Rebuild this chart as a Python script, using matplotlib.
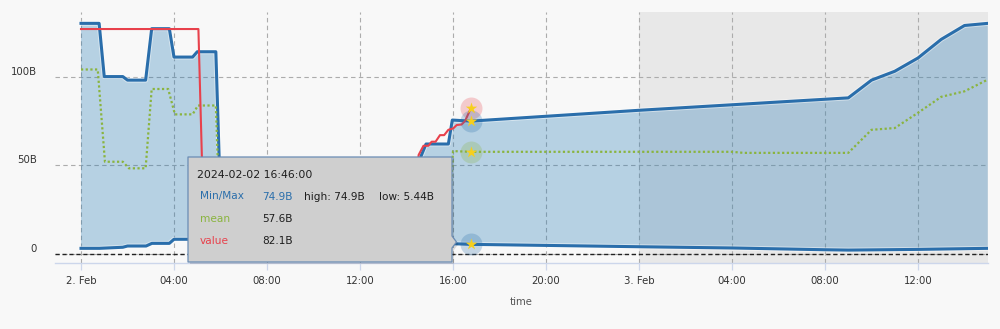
import matplotlib
matplotlib.use("Agg")
import matplotlib.pyplot as plt
import matplotlib.dates as mdates
import matplotlib.patheffects as pe
from matplotlib.patches import Polygon
import numpy as np
import pandas as pd

# ---------------- data (hours after 2024-02-02 00:00, values in B) ----------------
base_time = "2024-02-02 00:00"

max_hours = [0, 0.78, 1.0, 1.8, 2.0, 2.78, 3.04, 3.8, 4.0, 4.8, 5.0, 5.8, 6.05, 14.4,
             14.62, 14.84, 15.8, 15.97, 16.7667, 24, 33, 34, 35, 36, 37, 38, 39]
max_values = [130, 130, 100, 100, 98, 98, 127, 127, 111, 111, 114, 114, 9, 10,
              55, 62, 62, 75.5, 74.9, 81, 88, 98, 103, 110.5, 121, 128.8, 130]

min_hours = [0, 0.8, 1.8, 2.0, 2.8, 3.05, 3.8, 4.0, 5.8, 6.05, 15.8, 16.0, 16.7667,
             24, 28, 32, 33, 36, 39]
min_values = [3.2, 3.2, 3.8, 4.5, 4.5, 6.0, 6.0, 8.3, 8.3, 7, 6, 5.8, 5.44,
              4.1, 3.4, 2.4, 2.2, 2.6, 3.2]

mean_hours = [0, 0.72, 1.03, 1.8, 2.06, 2.78, 3.04, 3.75, 4.04, 4.8, 5.03, 5.8, 6.0,
              15.8, 16.0, 16.7667, 28, 28.5, 33, 34, 35, 36, 37, 38, 39]
mean_values = [104, 104, 52, 52, 48.3, 48.3, 93, 93, 78.7, 78.7, 83.7, 83.7, 8,
               8, 58, 57.6, 57.6, 57, 57, 70, 71, 79.6, 88.6, 91.7, 98.3]

value_hours = [0, 5.05, 5.3, 14.3, 14.52, 14.73, 14.94, 15.08, 15.25, 15.44, 15.62,
               15.8, 16.01, 16.16, 16.37, 16.52, 16.7667]
value_values = [126.8, 126.8, 6, 6, 55.8, 61, 61, 63.3, 63.3, 67, 67,
                70, 70.8, 72.7, 73, 75, 82.1]

hover_label = "2024-02-02 16:46:00"
hover_hour = 16.7667
hover_max = 74.9
hover_min = 5.44
hover_mean = 57.6
hover_value = 82.1

tick_hours = [0, 4, 8, 12, 16, 20, 24, 28, 32, 36]
tick_labels = ["2. Feb", "04:00", "08:00", "12:00", "16:00", "20:00",
               "3. Feb", "04:00", "08:00", "12:00"]
ytick_values = [0, 50, 100]
ytick_labels = ["0", "50B", "100B"]
band_hours = [24, 40]

# ---------------- helpers ----------------
base = pd.Timestamp(base_time)


def X(hours):
    ts = base + pd.to_timedelta(np.asarray(hours, dtype=float), unit="h")
    return mdates.date2num(ts.to_pydatetime())


W, H = 1000, 329


def fp(x, y):  # pixel (top-left origin) -> figure fraction
    return x / W, 1 - y / H


BLUE = "#2a6eab"
FILL = "#1f77b4"
GREEN = "#8ab43f"
RED = "#e8414c"
BG = "#f8f8f8"

fig = plt.figure(figsize=(10, 3.29), dpi=100, facecolor=BG)
ax = fig.add_axes([55 / W, (H - 263) / H, 933 / W, 251 / H])
ax.set_facecolor(BG)

# plot band
ax.axvspan(X(band_hours[0]), X(band_hours[1]), color="#e8e8e8", zorder=0.2, lw=0)

# grid
ax.set_axisbelow(True)
ax.grid(True, color="#acacac", linestyle=(0, (4, 3)), lw=0.8)

# zero line
ax.axhline(0, color="#222222", ls=(0, (3, 2)), lw=1.0, zorder=1.5)

# min/max area
xs = np.concatenate([X(max_hours), X(min_hours)[::-1]])
ys = np.concatenate([np.asarray(max_values), np.asarray(min_values)[::-1]])
ax.fill(xs, ys, color=FILL, alpha=0.3, lw=0, zorder=1)

glow = [pe.Stroke(linewidth=3.6, foreground="white", alpha=0.45), pe.Normal()]
ax.plot(X(max_hours), max_values, color=BLUE, lw=2.2, zorder=3,
        solid_joinstyle="round", path_effects=glow)
ax.plot(X(min_hours), min_values, color=BLUE, lw=2.2, zorder=3,
        solid_joinstyle="round", path_effects=glow)
ax.plot(X(mean_hours), mean_values, color=GREEN, lw=1.6, ls=(0, (1, 1.1)), zorder=3)
ax.plot(X(value_hours), value_values, color=RED, lw=1.5, zorder=4)

# hover halos & markers
hx = X([hover_hour])[0]
for v, c in [(hover_value, RED), (hover_max, BLUE), (hover_mean, GREEN), (hover_min, BLUE)]:
    ax.scatter([hx], [v], s=250, color=c, alpha=0.25, lw=0, zorder=5)
    ax.scatter([hx], [v], s=75, marker="*", color="#f6cf1d", lw=0, zorder=6)

# axes styling
ax.set_xlim(X(-1.118), X(39.01))
ax.set_ylim(-5.07, 136.4)
ax.set_xticks(X(tick_hours))
ax.set_xticklabels(tick_labels)
ax.set_yticks(ytick_values)
ax.set_yticklabels(ytick_labels)
ax.tick_params(axis="x", length=5, width=0.9, color="#ccd6eb", labelsize=7.3,
               labelcolor="#333333", pad=4)
ax.tick_params(axis="y", length=0, labelsize=7.3, labelcolor="#333333", pad=13)
for lab in ax.get_yticklabels():
    lab.set_verticalalignment("bottom")
for s in ["top", "right", "left"]:
    ax.spines[s].set_visible(False)
ax.spines["bottom"].set_color("#ccd6eb")
ax.spines["bottom"].set_linewidth(1.0)
ax.set_xlabel("time", fontsize=7.3, color="#555555")
ax.xaxis.set_label_coords(0.5, (263 - 297) / 251)

# ---------------- tooltip ----------------
box_px = [(188, 157), (452, 157), (452, 236), (456.5, 242), (452, 248), (452, 262), (188, 262)]
shadow = Polygon([fp(x + 2, y + 2) for x, y in box_px], closed=True, transform=fig.transFigure,
                 facecolor="#000000", alpha=0.12, lw=0, zorder=9)
fig.patches.append(shadow)
box = Polygon([fp(x, y) for x, y in box_px], closed=True, transform=fig.transFigure,
              facecolor="#cfcfcf", edgecolor="#6a8cb4", lw=0.9, zorder=10,
              joinstyle="round")
fig.patches.append(box)

tfs = 7.6
TXT = "#1e1e1e"
fig.text(*fp(197, 175), hover_label, fontsize=7.8, color=TXT, va="center", ha="left", zorder=11)
fig.text(*fp(200, 196.5), "Min/Max", fontsize=tfs, color=BLUE, va="center", zorder=11)
fig.text(*fp(262, 196.5), f"{hover_max}B", fontsize=tfs, color=BLUE, va="center", zorder=11)
fig.text(*fp(304, 196.5), f"high: {hover_max}B", fontsize=tfs, color=TXT, va="center", zorder=11)
fig.text(*fp(379, 196.5), f"low: {hover_min}B", fontsize=tfs, color=TXT, va="center", zorder=11)
fig.text(*fp(200, 218.5), "mean", fontsize=tfs, color=GREEN, va="center", zorder=11)
fig.text(*fp(262, 218.5), f"{hover_mean}B", fontsize=tfs, color=TXT, va="center", zorder=11)
fig.text(*fp(200, 240.5), "value", fontsize=tfs, color=RED, va="center", zorder=11)
fig.text(*fp(262, 240.5), f"{hover_value}B", fontsize=tfs, color=TXT, va="center", zorder=11)

fig.savefig("out.png", dpi=100, facecolor=BG)
